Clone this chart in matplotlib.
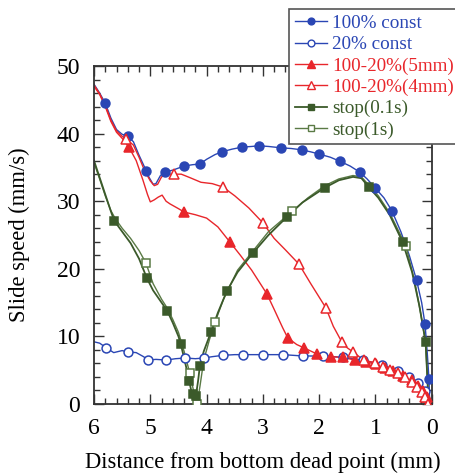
import matplotlib
matplotlib.use("Agg")
import matplotlib.pyplot as plt
from matplotlib.ticker import MultipleLocator

plt.rcParams['font.family'] = ['Liberation Serif', 'DejaVu Serif']
plt.rcParams['mathtext.fontset'] = 'stix'

BLUE = '#2a46b4'
RED = '#e8262b'
GREEN = '#3b5a2a'
GREEN_LT = '#5a7a45'

# --- measured curves: distance from BDC (mm) vs slide speed (mm/s) ---
full_d = [6.00, 5.90, 5.80, 5.70, 5.60, 5.50, 5.40, 5.30, 5.20, 5.10, 5.02, 4.95, 4.90,
          4.82, 4.74, 4.60, 4.50, 4.40, 4.25, 4.12, 4.00, 3.85, 3.73, 3.55, 3.37, 3.20,
          3.07, 2.90, 2.68, 2.50, 2.31, 2.15, 2.01, 1.80, 1.63, 1.45, 1.28, 1.15, 1.01,
          0.85, 0.71, 0.55, 0.40, 0.27, 0.18, 0.12, 0.08, 0.05, 0.04]
full_v = [47.3, 46.0, 44.5, 42.3, 40.6, 39.9, 39.6, 38.8, 36.8, 35.0, 33.5, 32.5, 32.6,
          33.8, 34.3, 34.6, 34.9, 35.2, 35.4, 35.5, 36.2, 36.9, 37.3, 37.7, 38.0, 38.1,
          38.2, 38.1, 37.9, 37.8, 37.6, 37.3, 37.0, 36.5, 35.9, 35.2, 34.3, 33.3, 32.0,
          30.5, 28.6, 25.5, 22.0, 18.3, 15.0, 11.8, 7.5, 3.7, 1.0]
full_md = [5.80, 5.40, 5.08, 4.74, 4.40, 4.12, 3.73, 3.37, 3.07, 2.68, 2.31, 2.01, 1.63,
           1.28, 1.01, 0.71, 0.27, 0.12, 0.05]
full_mv = [44.5, 39.6, 34.5, 34.3, 35.2, 35.5, 37.3, 38.0, 38.2, 37.9, 37.6, 37.0, 35.9,
           34.3, 32.0, 28.6, 18.3, 11.8, 3.7]

low_d = [6.00, 5.90, 5.78, 5.65, 5.50, 5.40, 5.25, 5.12, 5.04, 4.90, 4.72, 4.55, 4.38,
         4.20, 4.05, 3.90, 3.71, 3.50, 3.36, 3.00, 2.64, 2.29, 1.93, 1.58, 1.23, 0.88,
         0.60, 0.44, 0.30, 0.20, 0.12, 0.08, 0.06]
low_v = [9.2, 9.0, 8.3, 7.6, 7.9, 7.7, 7.6, 7.0, 6.5, 6.6, 6.5, 6.7, 6.8,
         6.7, 6.8, 7.0, 7.2, 7.3, 7.3, 7.3, 7.3, 7.1, 7.1, 6.9, 6.5, 5.8,
         4.9, 4.2, 3.5, 2.8, 1.9, 1.0, 0.3]
low_md = [5.78, 5.40, 5.04, 4.72, 4.38, 4.05, 3.71, 3.36, 3.00, 2.64, 2.29, 1.93, 1.58,
          1.23, 0.88, 0.60, 0.40, 0.25, 0.12]
low_mv = [8.3, 7.7, 6.5, 6.5, 6.8, 6.8, 7.2, 7.3, 7.3, 7.3, 7.1, 7.1, 6.9,
          6.5, 5.8, 4.9, 4.0, 3.1, 1.9]

sw5_d = [6.00, 5.90, 5.80, 5.70, 5.60, 5.50, 5.38, 5.25, 5.13, 5.05, 5.00, 4.93, 4.86,
         4.79, 4.72, 4.65, 4.50, 4.40, 4.20, 4.00, 3.80, 3.59, 3.40, 3.20, 2.93, 2.80,
         2.65, 2.56, 2.40, 2.27, 2.04, 1.79, 1.58, 1.37, 1.17, 0.99, 0.83, 0.69, 0.51,
         0.36, 0.25, 0.16, 0.09, 0.06]
sw5_v = [47.0, 45.8, 44.0, 41.8, 40.2, 39.3, 38.0, 36.0, 33.1, 31.0, 29.9, 30.2, 30.6,
         30.9, 30.0, 29.6, 28.9, 28.4, 28.0, 27.5, 26.2, 24.0, 22.0, 19.8, 16.3, 14.0,
         11.3, 9.8, 8.8, 8.3, 7.4, 7.0, 6.9, 6.5, 6.2, 5.9, 5.3, 4.9, 4.2,
         3.5, 2.7, 1.9, 1.0, 0.3]
sw5_md = [5.38, 4.40, 3.59, 2.93, 2.56, 2.27, 2.04, 1.79, 1.58, 1.37, 1.17, 0.99, 0.83,
          0.69, 0.51, 0.36, 0.25, 0.16, 0.09]
sw5_mv = [38.0, 28.4, 24.0, 16.3, 9.8, 8.3, 7.4, 7.0, 6.9, 6.5, 6.2, 5.9, 5.3,
          4.9, 4.2, 3.5, 2.7, 1.9, 1.0]

sw4_d = [6.00, 5.90, 5.80, 5.70, 5.60, 5.50, 5.43, 5.30, 5.20, 5.10, 5.00, 4.93, 4.87,
         4.80, 4.70, 4.58, 4.45, 4.30, 4.10, 3.90, 3.71, 3.50, 3.25, 3.00, 2.80, 2.60,
         2.36, 2.15, 1.88, 1.75, 1.60, 1.50, 1.40, 1.21, 1.01, 0.87, 0.75, 0.60, 0.48,
         0.35, 0.27, 0.18, 0.12, 0.07]
sw4_v = [47.2, 45.9, 44.2, 42.0, 40.4, 39.6, 39.2, 38.3, 36.5, 34.5, 33.0, 32.3, 32.5,
         33.6, 34.0, 34.0, 34.0, 33.5, 32.8, 32.6, 32.1, 30.8, 29.0, 26.8, 24.5, 22.8,
         20.7, 17.8, 14.2, 11.5, 9.2, 8.3, 7.7, 6.5, 6.1, 5.5, 5.0, 4.6, 4.0,
         3.3, 2.5, 1.8, 1.0, 0.0]
sw4_md = [5.43, 4.58, 3.71, 3.00, 2.36, 1.88, 1.60, 1.40, 1.21, 1.01, 0.87, 0.75, 0.60,
          0.48, 0.35, 0.27, 0.18, 0.12, 0.07]
sw4_mv = [39.2, 34.0, 32.1, 26.8, 20.7, 14.2, 9.2, 7.7, 6.5, 6.1, 5.5, 5.0, 4.6,
          4.0, 3.3, 2.5, 1.8, 1.0, 0.0]

stop01_d = [6.00, 5.90, 5.80, 5.70, 5.64, 5.50, 5.35, 5.20, 5.06, 4.95, 4.80, 4.70, 4.60,
            4.50, 4.46, 4.40, 4.35, 4.31, 4.26, 4.22, 4.19, 4.15, 4.12, 4.05, 3.92, 3.80,
            3.64, 3.45, 3.18, 2.90, 2.57, 2.30, 1.90, 1.65, 1.40, 1.25, 1.12, 0.95, 0.75,
            0.52, 0.35, 0.22, 0.11, 0.08, 0.06]
stop01_v = [36.0, 33.5, 31.0, 28.5, 27.1, 25.5, 23.8, 21.5, 18.6, 16.8, 15.0, 13.8, 12.0,
            10.0, 8.9, 6.8, 5.0, 3.4, 1.5, 0.5, 1.2, 3.5, 5.6, 7.8, 10.7, 13.5,
            16.7, 19.5, 22.3, 25.0, 27.7, 29.8, 32.0, 33.1, 33.6, 33.4, 32.1, 30.5, 28.0,
            24.0, 19.5, 14.5, 9.2, 4.0, 0.5]
stop01_md = [5.64, 5.06, 4.70, 4.46, 4.31, 4.24, 4.19, 4.12, 3.92, 3.64, 3.18, 2.57, 1.90,
             1.12, 0.52, 0.11]
stop01_mv = [27.1, 18.6, 13.8, 8.9, 3.4, 1.5, 1.2, 5.6, 10.7, 16.7, 22.3, 27.7, 32.0,
             32.1, 24.0, 9.2]

stop1_d = [6.00, 5.90, 5.80, 5.70, 5.62, 5.50, 5.35, 5.20, 5.08, 4.95, 4.80, 4.70, 4.60,
           4.50, 4.40, 4.30, 4.22, 4.17, 4.12, 4.05, 3.95, 3.85, 3.70, 3.45, 3.18, 2.90,
           2.48, 2.20, 1.90, 1.65, 1.40, 1.25, 1.12, 0.95, 0.75, 0.46, 0.30, 0.20, 0.11,
           0.08, 0.06]
stop1_v = [35.7, 33.3, 30.8, 28.6, 27.4, 26.0, 24.5, 22.7, 20.9, 17.8, 15.5, 14.2, 12.5,
           10.6, 7.8, 4.6, 1.5, 0.0, 2.5, 6.5, 9.5, 12.1, 15.5, 19.8, 22.6, 25.5,
           28.5, 30.5, 32.3, 33.3, 33.8, 33.6, 32.4, 30.8, 28.3, 23.4, 18.0, 13.5, 9.0,
           4.0, 0.5]
stop1_md = [5.08, 4.30, 4.17, 3.85, 2.48, 0.46]
stop1_mv = [20.9, 4.6, 0.0, 12.1, 28.5, 23.4]

fig = plt.figure(figsize=(4.55, 4.75), dpi=100)
ax = fig.add_axes([0.2066, 0.1495, 0.7424, 0.7115])

ms = 6.4
# line + markers for each run (lines first so markers sit on top)
series = [
    (full_d, full_v, full_md, full_mv, BLUE, 'o', BLUE, '100% const', 1.0),
    (low_d, low_v, low_md, low_mv, BLUE, 'o', 'white', '20% const', 1.0),
    (sw5_d, sw5_v, sw5_md, sw5_mv, RED, '^', RED, '100-20%(5mm)', 1.0),
    (sw4_d, sw4_v, sw4_md, sw4_mv, RED, '^', 'white', '100-20%(4mm)', 1.0),
    (stop1_d, stop1_v, stop1_md, stop1_mv, GREEN_LT, 's', 'white', 'stop(1s)', 1.0),
    (stop01_d, stop01_v, stop01_md, stop01_mv, GREEN, 's', GREEN, 'stop(0.1s)', 1.3),
]
handles = {}
for d, v, md, mv, col, mk, fc, lab, lw in series:
    ax.plot(d, v, color=col, lw=lw, zorder=2)
    size = ms + 1.5 if mk == '^' else ms
    ax.plot(md, mv, ls='none', marker=mk, ms=size, mfc=fc, mec=col, mew=1.1, zorder=3)
    h, = ax.plot([], [], color=col, lw=lw, marker=mk, ms=size - 1.5, mfc=fc, mec=col, mew=1.0)
    handles[lab] = h

ax.set_xlim(6, 0)
ax.set_ylim(0, 50)
ax.xaxis.set_major_locator(MultipleLocator(1))
ax.xaxis.set_minor_locator(MultipleLocator(0.2))
ax.yaxis.set_major_locator(MultipleLocator(10))
ax.yaxis.set_minor_locator(MultipleLocator(2))
ax.tick_params(which='both', direction='in', top=True, right=True, labelsize=17, color='#333333')
ax.tick_params(which='major', length=7, width=1.0, pad=10)
ax.tick_params(which='minor', length=4, width=1.0)
for s in ax.spines.values():
    s.set_linewidth(1.3)
    s.set_color('#333333')

ax.set_xlabel('Distance from bottom dead point (mm)', fontsize=16.3, labelpad=9)
ax.set_ylabel('Slide speed (mm/s)', fontsize=16.3, labelpad=19)

order = ['100% const', '20% const', '100-20%(5mm)', '100-20%(4mm)', 'stop(0.1s)', 'stop(1s)']
leg = fig.legend([handles[k] for k in order], order, loc='upper left',
                 bbox_to_anchor=(289 / 455, 1 - 9 / 475), fontsize=13.8,
                 handlelength=1.7, handletextpad=0.25, labelspacing=0.2,
                 borderpad=0.3, borderaxespad=0, fancybox=False, framealpha=1)
leg.get_frame().set_edgecolor('#555555')
leg.get_frame().set_linewidth(1.2)
text_cols = [BLUE, BLUE, RED, RED, GREEN, GREEN]
for t, c in zip(leg.get_texts(), text_cols):
    t.set_color(c)

fig.savefig('out.png', dpi=100)
